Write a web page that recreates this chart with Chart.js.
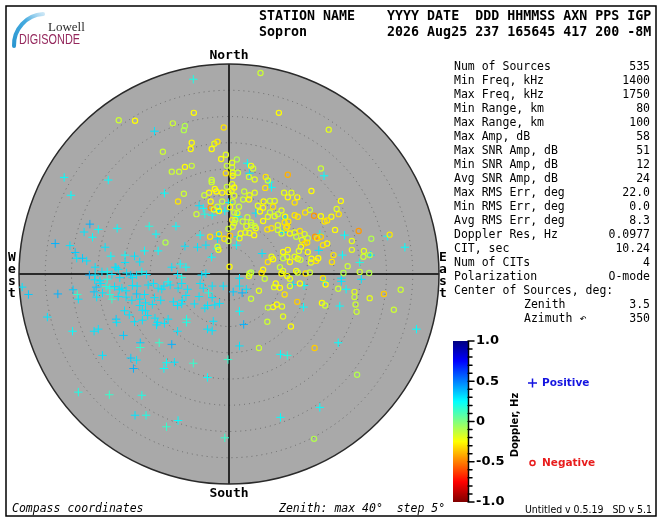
<!DOCTYPE html>
<html>
<head>
<meta charset="utf-8">
<title>Skymap Sopron</title>
<script src="https://cdn.jsdelivr.net/npm/chart.js@4.4.1/dist/chart.umd.min.js"></script>
<style>
  html, body { margin: 0; padding: 0; background: #fff; }
  canvas { display: block; }
</style>
</head>
<body>
<canvas id="skymap" width="660" height="520"></canvas>
<script>
// Sky map scale (zenith angle, deg) and ring step
const maxZenith = 40;
const zenithRings = [5, 10, 15, 20, 25, 30, 35];
const colorbarTicks = [1.0, 0.5, 0, -0.5, -1.0];
const colorbarLabels = ['1.0', '0.5', '0', '-0.5', '-1.0'];

// Header
const headerTop = 'STATION NAME    YYYY DATE  DDD HHMMSS AXN PPS IGP';
const headerBottom = 'Sopron          2026 Aug25 237 165645 417 200 -8M';

// Stats panel
const statLabels = ['Num of Sources', 'Min Freq, kHz', 'Max Freq, kHz', 'Min Range, km', 'Max Range, km',
    'Max Amp, dB', 'Max SNR Amp, dB', 'Min SNR Amp, dB', 'Avg SNR Amp, dB', 'Max RMS Err, deg',
    'Min RMS Err, deg', 'Avg RMS Err, deg', 'Doppler Res, Hz', 'CIT, sec', 'Num of CITs', 'Polarization',
    'Center of Sources, deg:'];
const statValues = ['535', '1400', '1750', '80', '100', '58', '51', '12', '24', '22.0', '0.0', '8.3',
    '0.0977', '10.24', '4', 'O-mode', ''];
const centerLabels = ['Zenith', 'Azimuth \u21B6'];
const centerValues = ['3.5', '350'];

// Sources with positive Doppler: [east deg, north deg, doppler Hz]
const positiveSources = [
    [-6.8,37.1,0.2],[-14.2,27.2,0.3],[-31.4,18.4,0.25],[-23.0,17.9,0.25],[-30.1,15.0,0.25],[-12.3,15.4,0.25],
    [-5.7,13.0,0.3],[-4.9,12.5,0.25],[-4.6,11.4,0.2],[-3.2,11.2,0.25],[-2.0,12.1,0.3],[-0.8,12.0,0.25],
    [-26.5,9.5,0.4],[-27.6,8.0,0.3],[-26.0,7.0,0.25],[-24.9,8.5,0.25],[-21.3,8.7,0.25],[-15.2,9.1,0.2],
    [-10.1,9.1,0.25],[-13.9,7.6,0.25],[-5.5,7.4,0.25],[-33.1,5.8,0.4],[-30.3,5.4,0.3],[-29.3,4.1,0.35],
    [-23.6,5.1,0.3],[-8.4,5.3,0.3],[-6.0,5.1,0.3],[-4.4,5.5,0.3],[-2.3,4.8,0.25],[-29.0,3.0,0.3],
    [-27.9,3.0,0.35],[-27.1,2.5,0.3],[-22.5,3.4,0.25],[-19.8,3.6,0.25],[-18.0,3.4,0.3],[-16.1,4.4,0.25],
    [-13.5,4.4,0.25],[-17.0,2.3,0.3],[-19.8,2.2,0.3],[-25.5,1.3,0.3],[-21.7,1.3,0.3],[-21.1,0.9,0.3],
    [-10.9,1.3,0.3],[-9.3,1.9,0.25],[-8.2,1.3,0.25],[-3.3,3.2,0.25],[-2.1,7.6,0.3],[-2.2,6.7,0.3],
    [-0.1,13.6,0.3],
    [-26.6,-0.2,0.4],[-25.5,-0.2,0.3],[-24.2,0.4,0.3],[-23.2,0.4,0.25],[-22.3,-0.1,0.3],[-21.5,1.2,0.3],
    [-39.4,-2.5,0.3],[-38.2,-3.9,0.35],[-32.6,-3.8,0.4],[-34.6,-8.2,0.3],
    [-29.7,-3.0,0.35],[-28.9,-3.9,0.15],[-28.7,-4.8,0.3],[-25.6,-1.1,0.3],[-24.6,-1.3,0.3],[-23.2,-1.0,0.2],
    [-20.8,-0.7,0.3],[-25.3,-2.5,0.35],[-24.4,-1.8,0.3],[-23.4,-2.4,0.2],[-22.7,-2.7,0.2],[-21.8,-2.4,0.3],
    [-20.9,-3.0,0.3],[-20.4,-2.7,0.3],[-25.7,-3.4,0.35],[-24.1,-3.6,0.3],[-22.7,-3.9,0.2],[-21.1,-4.3,0.3],
    [-25.2,-4.4,0.3],[-22.3,-4.8,0.15],[-19.6,-3.2,0.3],[-19.6,-4.4,0.3],[-21.5,-8.6,0.35],[-21.4,-9.2,0.3],
    [-19.9,-7.0,0.3],[-29.8,-10.9,0.25],[-25.7,-10.9,0.3],[-24.9,-10.5,0.3],
    [-19.5,0.2,0.3],[-18.7,-0.2,0.35],[-18.4,-0.7,0.3],[-17.6,-0.2,0.3],[-16.6,0.4,0.25],[-15.7,-0.1,0.3],
    [-9.8,-0.1,0.3],[-9.0,-0.7,0.2],[-5.2,-0.2,0.3],[-4.4,0.1,0.3],[-18.4,-2.2,0.3],[-17.5,-2.3,0.3],
    [-17.6,-3.8,0.35],[-15.4,-2.1,0.3],[-14.4,-1.8,0.3],[-13.5,-2.7,0.3],[-12.4,-2.3,0.3],[-11.6,-1.5,0.25],
    [-11.2,-2.1,0.3],[-9.7,-2.7,0.3],[-9.0,-1.8,0.3],[-7.9,-2.9,0.3],[-5.5,-1.8,0.3],[-4.9,-2.7,0.3],
    [-3.2,-2.3,0.3],[-1.1,-2.3,0.3],[-18.5,-5.0,0.3],[-17.0,-4.8,0.3],[-16.1,-3.9,0.3],[-15.9,-5.5,0.3],
    [-14.2,-4.5,0.3],[-12.8,-2.9,0.3],[-13.0,-5.0,0.3],[-14.6,-5.8,0.3],[-17.0,-6.0,0.3],[-16.5,-6.9,0.3],
    [-15.9,-7.0,0.3],[-15.5,-7.9,0.3],[-19.0,-7.8,0.3],[-18.0,-9.1,0.3],[-16.5,-8.8,0.3],[-10.6,-5.3,0.3],
    [-8.9,-5.0,0.3],[-9.8,-6.0,0.3],[-8.2,-4.1,0.3],[-9.0,-5.7,0.3],[-6.6,-5.7,0.3],[-5.7,-4.3,0.3],
    [-3.9,-3.6,0.2],[-3.2,-4.5,0.3],[-4.1,-6.0,0.3],[-4.6,-6.5,0.3],[-2.7,-5.9,0.3],[-1.8,-5.6,0.3],
    [-14.1,-8.4,0.3],[-13.6,-9.2,0.3],[-12.3,-9.4,0.3],[-13.8,-9.7,0.3],[-11.6,-8.6,0.3],[-8.1,-8.6,0.2],
    [-8.1,-9.2,0.2],[-9.8,-10.9,0.3],[-3.0,-9.0,0.3],[-3.2,-10.8,0.3],[-4.1,-10.5,0.3],
    [-24.1,-15.5,0.3],[-28.7,-22.5,0.2],[-22.8,-23.0,0.15],[-16.6,-23.1,0.2],[-17.9,-26.9,0.3],[-15.8,-26.9,0.2],
    [-11.9,-29.1,0.15],[-9.7,-27.9,0.25],[-0.8,-31.2,0.15],[-20.1,-11.7,0.35],[-16.9,-13.1,0.35],[-16.9,-14.0,0.15],
    [-13.3,-13.1,0.15],[-10.9,-13.4,0.4],[-18.7,-16.0,0.35],[-17.6,-16.4,0.3],[-18.2,-18.0,0.4],[-11.9,-16.9,0.25],
    [-12.4,-18.0,0.25],[-10.4,-16.8,0.3],[-6.8,-17.0,0.15],[-4.1,-19.7,0.25],
    [3.5,21.1,0.25],[3.9,19.2,0.3],[7.7,17.5,0.25],[8.1,16.5,0.25],[18.1,18.7,0.25],[1.7,10.9,0.25],
    [5.1,11.6,0.3],[10.7,10.6,0.3],[10.3,7.9,0.3],[17.3,7.6,0.25],[22.0,7.4,0.25],[30.2,7.2,0.25],
    [33.5,5.1,0.25],[17.1,4.5,0.3],[21.6,3.6,0.25],[24.9,2.2,0.2],[27.0,3.6,0.3],[6.3,3.9,0.3],
    [1.7,7.1,0.3],[1.4,5.5,0.25],
    [2.0,-0.8,0.3],[2.0,-2.3,0.3],[3.3,-2.9,0.3],[0.8,-3.4,0.35],[2.5,-3.6,0.4],[2.0,-7.1,0.25],
    [2.8,-9.6,0.4],[2.0,-13.7,0.3],[-0.2,-16.3,0.15],[9.8,-15.3,0.25],[11.1,-15.5,0.2],[12.2,-2.0,0.3],
    [14.3,-2.2,0.25],[14.2,-6.3,0.25],[18.2,-1.4,0.3],[21.4,-0.8,0.3],[21.4,-1.4,0.3],[22.3,-2.9,0.25],
    [25.2,-1.0,0.3],[21.1,-6.1,0.25],[20.8,-13.1,0.25],[35.7,-10.5,0.25],[17.3,-25.4,0.25],[9.8,-27.3,0.25]
];

// Sources with negative Doppler: [east deg, north deg, doppler Hz]
const negativeSources = [
    [-21.0,29.3,-0.15],[-17.9,29.2,-0.25],[-6.7,30.7,-0.25],[-10.7,28.7,-0.15],[-8.4,28.2,-0.1],[-8.6,27.4,-0.1],
    [-1.0,27.9,-0.3],[-7.1,25.0,-0.25],[-7.3,23.8,-0.25],[-12.6,23.3,-0.15],[-2.8,24.8,-0.2],[-2.2,25.2,-0.3],
    [-3.3,23.8,-0.25],[-1.5,21.9,-0.25],[-0.6,22.7,-0.2],[-10.9,19.5,-0.15],[-9.5,19.5,-0.15],[-8.4,20.4,-0.25],
    [-7.1,20.6,-0.15],[-0.4,20.6,-0.15],[-0.6,19.2,-0.3],[-3.3,17.9,-0.15],[-3.3,17.5,-0.15],[-2.7,16.2,-0.25],
    [-0.4,16.6,-0.15],[-0.1,15.6,-0.25],[-3.8,15.5,-0.25],[-4.7,15.0,-0.15],[-1.3,15.5,-0.25],[-8.6,15.3,-0.15],
    [-9.7,13.8,-0.3],[-3.5,12.6,-0.45],[-2.9,12.3,-0.2],[-2.2,12.8,-0.15],[-1.3,13.8,-0.15],[-6.2,11.4,-0.15],
    [-12.1,6.0,-0.1],[-1.9,7.6,-0.3],[-0.9,6.7,-0.3],[-2.2,5.2,-0.15],[-2.0,4.6,-0.25],
    [-0.1,8.6,-0.15],[0.2,7.3,-0.35],[-0.1,6.3,-0.15],
    [0.6,20.3,-0.15],[-2.4,15.7,-0.25],[0.5,15.9,-0.2],[-3.5,13.8,-0.25],[0.7,13.7,-0.15],[-1.9,12.0,-0.25],
    [5.9,11.9,-0.25],[10.7,10.9,-0.25],[11.3,10.0,-0.3],[0.2,12.7,-0.25],[0.6,10.3,-0.3],[3.5,10.8,-0.15],
    [5.1,8.7,-0.25],[4.3,9.3,-0.15],[3.9,7.8,-0.2],[4.8,7.4,-0.25],[11.1,9.1,-0.3],[-3.6,7.1,-0.3],
    [2.0,6.8,-0.2],[1.0,14.9,-0.2],
    [6.0,38.3,-0.15],[9.5,30.7,-0.25],[19.0,27.5,-0.2],[17.5,20.1,-0.15],[11.2,18.9,-0.4],[1.5,21.8,-0.1],
    [0.6,21.2,-0.2],[4.2,20.6,-0.25],[4.6,20.1,-0.15],[3.8,18.5,-0.15],[4.9,18.0,-0.2],[0.7,19.3,-0.2],
    [0.7,18.7,-0.25],[1.7,19.3,-0.15],[7.0,18.5,-0.3],[7.4,17.8,-0.15],[6.9,16.4,-0.3],[0.6,17.1,-0.2],
    [1.0,16.5,-0.25],[2.9,15.7,-0.15],[2.7,14.2,-0.15],[3.9,15.0,-0.2],[3.8,14.2,-0.25],[4.9,15.5,-0.2],
    [10.5,15.5,-0.2],[11.2,14.6,-0.25],[11.9,15.5,-0.2],[13.0,14.6,-0.25],[12.5,13.6,-0.3],[15.7,15.8,-0.25],
    [21.3,13.9,-0.25],[6.6,13.8,-0.25],[7.8,13.9,-0.15],[8.7,13.9,-0.2],[8.4,12.8,-0.3],[5.5,13.0,-0.2],
    [6.5,12.6,-0.25],[1.9,12.8,-0.15],[1.6,11.6,-0.2],[1.0,11.7,-0.15],[15.4,12.2,-0.15],[14.5,11.7,-0.3],
    [12.5,11.2,-0.3],[13.1,10.9,-0.3],[16.2,11.1,-0.45],[17.5,11.0,-0.25],[19.5,10.9,-0.25],[20.9,11.4,-0.3],
    [20.5,12.4,-0.2],[18.2,10.0,-0.3],[18.7,10.2,-0.3],[10.0,12.1,-0.2],[9.3,11.4,-0.15],[8.7,11.0,-0.2],
    [7.8,11.7,-0.15],[6.5,10.1,-0.25],[7.4,10.9,-0.2],[4.2,9.8,-0.15],[4.9,9.1,-0.15],[3.3,9.1,-0.2],
    [2.6,10.0,-0.15],[2.2,7.7,-0.25],[3.1,7.9,-0.2],[1.2,10.3,-0.15],[1.0,9.7,-0.15],[0.7,9.0,-0.2],
    [9.3,9.3,-0.2],[10.6,9.8,-0.3],[10.9,8.8,-0.3],[8.1,8.7,-0.3],[7.3,8.5,-0.3],[9.3,8.4,-0.15],
    [10.0,7.7,-0.2],[11.6,7.7,-0.25],[12.5,7.9,-0.2],[12.8,7.1,-0.15],[13.5,8.2,-0.3],[14.4,7.6,-0.2],
    [15.0,6.8,-0.15],[13.9,6.5,-0.2],[14.4,5.8,-0.35],[14.9,6.0,-0.3],[13.7,5.2,-0.25],[13.3,4.4,-0.2],
    [15.0,4.2,-0.25],[16.4,7.1,-0.45],[16.8,6.8,-0.3],[17.5,7.1,-0.35],[18.7,5.8,-0.25],[17.9,5.5,-0.3],
    [20.2,8.4,-0.25],[24.7,8.2,-0.45],[27.1,6.7,-0.1],[30.6,7.5,-0.3],[23.4,6.3,-0.2],[19.9,3.6,-0.3],
    [19.6,2.3,-0.3],[22.6,1.5,-0.15],[23.4,4.6,-0.2],[25.7,4.4,-0.2],[26.8,3.6,-0.1],[25.6,3.3,-0.15],
    [26.7,0.2,-0.1],[24.9,0.4,-0.15],[21.8,0.2,-0.1],[10.3,4.2,-0.25],[11.2,4.6,-0.25],[11.1,3.3,-0.2],
    [10.3,3.0,-0.15],[11.6,2.3,-0.25],[13.1,2.9,-0.25],[12.5,3.3,-0.2],[13.6,2.7,-0.15],[8.1,3.3,-0.2],
    [7.4,2.3,-0.3],[8.4,2.8,-0.25],[9.7,1.3,-0.15],[10.3,0.6,-0.2],[12.8,0.6,-0.25],[13.1,0.3,-0.15],
    [14.6,0.1,-0.3],[15.7,2.9,-0.25],[15.6,2.2,-0.2],[16.6,2.5,-0.3],[17.0,3.0,-0.25],[15.4,0.3,-0.15],
    [4.2,0.3,-0.1],[6.5,0.8,-0.25],[6.2,0.2,-0.3],[3.9,0.1,-0.15],[0.1,1.4,-0.25],
    [3.8,-0.4,-0.2],[6.8,-0.9,-0.15],[10.0,0.1,-0.25],[11.1,-0.4,-0.25],[11.6,-0.9,-0.2],
    [8.9,-1.8,-0.25],[8.6,-2.5,-0.2],[9.7,-2.6,-0.25],[11.6,-2.3,-0.2],[13.5,-1.8,-0.25],[5.7,-3.2,-0.2],
    [4.2,-4.7,-0.15],[10.6,-3.9,-0.3],[13.0,-5.3,-0.35],[9.1,-5.8,-0.25],[10.1,-6.2,-0.2],[8.4,-6.3,-0.25],
    [7.4,-6.4,-0.15],[10.3,-8.1,-0.2],[7.3,-9.1,-0.15],[11.8,-10.0,-0.25],[5.7,-14.1,-0.15],[16.3,-14.1,-0.35],
    [17.7,-5.5,-0.25],[18.3,-6.0,-0.15],[17.9,-0.8,-0.3],[18.4,-2.0,-0.25],[20.8,-2.8,-0.15],[23.9,-3.4,-0.2],
    [23.9,-4.4,-0.15],[24.1,-5.8,-0.15],[24.3,-7.2,-0.15],[26.8,-4.6,-0.2],[29.5,-3.8,-0.35],[32.7,-3.0,-0.15],
    [31.4,-6.8,-0.15],[24.4,-19.2,-0.1],[16.2,-31.4,-0.1]
];

// Reversed jet: +1 Hz blue, 0 green, -1 Hz red
function dopplerColor(v) {
    const t = (1 - v) / 2;
    const c = k => Math.round(255 * Math.max(0, Math.min(1, 1.5 - Math.abs(4 * t - k))));
    return `rgb(${c(3)},${c(2)},${c(1)})`;
}

const mono = '"DejaVu Sans Mono", monospace';
const sans = '"DejaVu Sans", sans-serif';

const skyPlugin = {
    id: 'sky',
    beforeDatasetsDraw(chart) {
        const { ctx, scales: { x, y } } = chart;
        const cx = x.getPixelForValue(0);
        const cy = y.getPixelForValue(0);
        const r = x.getPixelForValue(maxZenith) - cx;
        ctx.save();
        ctx.fillStyle = '#a9a9a9';
        ctx.beginPath();
        ctx.arc(cx, cy, r, 0, Math.PI * 2);
        ctx.fill();

        // dotted zenith rings
        ctx.strokeStyle = '#6a6a6a';
        ctx.lineWidth = 1;
        ctx.setLineDash([1, 4]);
        zenithRings.forEach(z => {
            const rr = x.getPixelForValue(z) - cx;
            ctx.beginPath();
            ctx.arc(cx, cy, rr, 0, Math.PI * 2);
            ctx.stroke();
        });
        ctx.setLineDash([]);

        // N-S / E-W axes
        ctx.strokeStyle = '#000';
        ctx.lineWidth = 1.5;
        ctx.beginPath();
        ctx.moveTo(cx, cy - r); ctx.lineTo(cx, cy + r);
        ctx.moveTo(cx - r, cy); ctx.lineTo(cx + r, cy);
        ctx.stroke();

        ctx.strokeStyle = '#2a2a2a';
        ctx.lineWidth = 1.5;
        ctx.beginPath();
        ctx.arc(cx, cy, r, 0, Math.PI * 2);
        ctx.stroke();
        ctx.restore();
    },
    afterDraw(chart) {
        const { ctx, scales: { x, y } } = chart;
        const cx = x.getPixelForValue(0);
        ctx.save();

        // frame
        ctx.strokeStyle = '#000';
        ctx.lineWidth = 1.5;
        ctx.strokeRect(6, 6, 650, 510);

        // logo
        const grad = ctx.createLinearGradient(12, 44, 46, 11);
        grad.addColorStop(0, '#2a96d0');
        grad.addColorStop(0.55, '#45abe0');
        grad.addColorStop(1, 'rgba(140,200,235,0.3)');
        ctx.strokeStyle = grad;
        ctx.lineWidth = 4;
        ctx.lineCap = 'round';
        ctx.beginPath();
        ctx.arc(45, 45, 31, Math.PI * 0.99, Math.PI * 1.48);
        ctx.stroke();
        ctx.fillStyle = '#2b2b2b';
        ctx.font = '13px "Liberation Serif", serif';
        ctx.textBaseline = 'alphabetic';
        ctx.fillText('Lowell', 48, 31);
        ctx.fillStyle = '#94275c';
        ctx.font = '14px "Liberation Sans", sans-serif';
        ctx.fillText('DIGISONDE', 19, 44, 61);

        // header
        ctx.fillStyle = '#000';
        ctx.font = 'bold 13.3px ' + mono;
        ctx.fillText(headerTop, 259, 20);
        ctx.fillText(headerBottom, 259, 36);

        // compass labels
        ctx.font = 'bold 13px ' + mono;
        ctx.textAlign = 'center';
        ctx.fillText('North', cx, 59);
        ctx.fillText('South', cx, 497);
        ctx.textBaseline = 'middle';
        ['W', 'e', 's', 't'].forEach((ch, i) => ctx.fillText(ch, 12, 258 + i * 12));
        ['E', 'a', 's', 't'].forEach((ch, i) => ctx.fillText(ch, 443, 258 + i * 12));

        // stats panel
        ctx.font = '11.5px ' + mono;
        statLabels.forEach((lab, i) => {
            const yy = 67 + i * 14;
            ctx.textAlign = 'left';
            ctx.fillText(lab, 454, yy);
            ctx.textAlign = 'right';
            ctx.fillText(statValues[i], 650, yy);
        });
        centerLabels.forEach((lab, i) => {
            const yy = 67 + (statLabels.length + i) * 14;
            ctx.textAlign = 'left';
            ctx.fillText(lab, 524, yy);
            ctx.textAlign = 'right';
            ctx.fillText(centerValues[i], 650, yy);
        });

        // colorbar
        const cbTop = 341, cbBot = 502, cbL = 453, cbR = 468;
        const vToY = v => cbTop + (1 - v) / 2 * (cbBot - cbTop);
        for (let py = cbTop; py < cbBot; py++) {
            const v = 1 - 2 * (py - cbTop + 0.5) / (cbBot - cbTop);
            ctx.fillStyle = dopplerColor(v);
            ctx.fillRect(cbL, py, cbR - cbL, 1);
        }
        ctx.strokeStyle = '#000';
        ctx.lineWidth = 1.5;
        ctx.beginPath();
        ctx.moveTo(cbR + 0.5, cbTop); ctx.lineTo(cbR + 0.5, cbBot);
        for (let k = 0; k <= 20; k++) {
            const yy = vToY(1 - k * 0.1);
            ctx.moveTo(cbR, yy);
            ctx.lineTo(cbR + (k % 5 === 0 ? 6 : 4), yy);
        }
        ctx.stroke();
        ctx.fillStyle = '#000';
        ctx.font = 'bold 13px ' + sans;
        ctx.textAlign = 'left';
        colorbarTicks.forEach((v, i) => ctx.fillText(colorbarLabels[i], 476, vToY(v)));

        ctx.save();
        ctx.translate(515, 425);
        ctx.rotate(-Math.PI / 2);
        ctx.textAlign = 'center';
        ctx.font = 'bold 10px ' + sans;
        ctx.fillText('Doppler, Hz', 0, 0);
        ctx.restore();

        // legend
        ctx.lineCap = 'butt';
        ctx.strokeStyle = '#1414e0';
        ctx.lineWidth = 1.5;
        ctx.beginPath();
        ctx.moveTo(528, 383); ctx.lineTo(537, 383);
        ctx.moveTo(532.5, 378.5); ctx.lineTo(532.5, 387.5);
        ctx.stroke();
        ctx.fillStyle = '#1414e0';
        ctx.font = 'bold 10.5px ' + sans;
        ctx.fillText('Positive', 542, 383);
        ctx.strokeStyle = '#e81c1c';
        ctx.beginPath();
        ctx.arc(532.5, 463, 2.5, 0, Math.PI * 2);
        ctx.stroke();
        ctx.fillStyle = '#e81c1c';
        ctx.fillText('Negative', 542, 463);

        // footer
        ctx.fillStyle = '#000';
        ctx.font = 'italic 11.5px ' + mono;
        ctx.fillText('Compass coordinates', 12, 509);
        ctx.fillText('Zenith: max 40\u00B0  step 5\u00B0', 279, 509);
        ctx.font = '10px ' + sans;
        ctx.fillText('Untitled v 0.5.19   SD v 5.1', 525, 510, 127);
        ctx.restore();
    }
};

new Chart(document.getElementById('skymap'), {
    type: 'scatter',
    data: {
        datasets: [
            {
                label: 'Negative',
                data: negativeSources.map(s => ({ x: s[0], y: s[1] })),
                pointStyle: 'circle',
                pointRadius: 2.6,
                pointBorderWidth: 1.2,
                pointBackgroundColor: 'rgba(0,0,0,0)',
                pointBorderColor: negativeSources.map(s => dopplerColor(s[2]))
            },
            {
                label: 'Positive',
                data: positiveSources.map(s => ({ x: s[0], y: s[1] })),
                pointStyle: 'cross',
                pointRadius: 4.2,
                pointBorderWidth: 1,
                pointBorderColor: positiveSources.map(s => dopplerColor(s[2]))
            }
        ]
    },
    options: {
        responsive: false,
        animation: false,
        layout: { padding: { left: 19, right: 221, top: 64, bottom: 36 } },
        scales: {
            x: { type: 'linear', min: -maxZenith, max: maxZenith, display: false },
            y: { type: 'linear', min: -maxZenith, max: maxZenith, display: false }
        },
        plugins: { legend: { display: false }, tooltip: { enabled: false } },
        events: []
    },
    plugins: [skyPlugin]
});
</script>
</body>
</html>
